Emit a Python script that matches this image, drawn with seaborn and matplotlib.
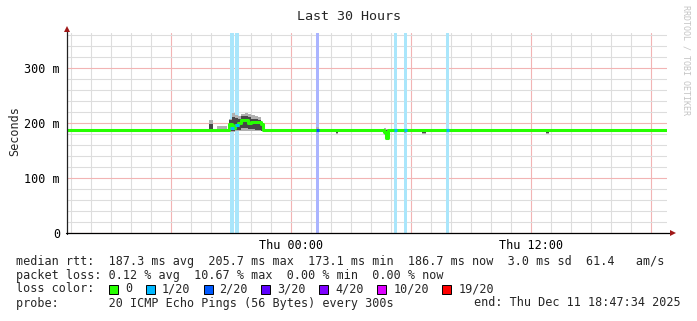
import matplotlib
matplotlib.use("Agg")
import matplotlib.pyplot as plt
import seaborn as sns
import numpy as np
import pandas as pd
from matplotlib.patches import Rectangle
from matplotlib.lines import Line2D

# ---------------- data ----------------
TITLE = "Last 30 Hours"
END_TIME = "2025-12-11 18:47:34"
SPAN_HOURS = 30

# median rtt (ms), step changes, hours since start
MEDIAN_T = [0.00, 8.10, 8.25, 8.40, 8.55, 8.70, 8.90, 9.05, 9.20, 9.40, 9.55, 9.70, 9.80,
            15.85, 15.95, 16.05, 30.00]
MEDIAN_V = [187.3, 198.0, 191.0, 196.0, 200.5, 205.5, 205.0, 199.5, 202.0, 201.5, 201.0, 199.0, 187.3,
            184.0, 172.5, 187.3, 186.7]

# smoke envelopes (ms), step changes
SMOKE_T = [0.00, 7.10, 7.30, 7.50, 8.00, 8.10, 8.25, 8.40, 8.55, 8.70, 8.90, 9.05, 9.20, 9.40, 9.55,
           9.70, 9.80, 12.45, 12.60, 13.45, 13.55, 15.85, 15.95, 16.05, 16.15, 16.85, 16.95,
           17.75, 17.95, 23.95, 24.10, 30.00]
SMOKE_LO_OUT = [185.5, 185.5, 185.5, 185.5, 185.5, 184.0, 183.0, 185.0, 186.0, 186.0, 186.0, 186.0,
                186.0, 186.0, 186.0, 185.0, 185.5, 185.5, 185.5, 180.0, 185.5, 178.0, 170.0, 181.0,
                185.5, 181.0, 185.5, 180.0, 185.5, 180.0, 185.5, 185.5]
SMOKE_HI_OUT = [189.0, 205.0, 189.0, 194.0, 189.0, 208.0, 218.0, 215.0, 212.0, 217.0, 219.0, 216.0,
                214.0, 212.0, 211.0, 200.0, 189.0, 193.0, 189.0, 189.0, 189.0, 190.0, 189.0, 189.0,
                189.0, 189.0, 189.0, 189.0, 189.0, 189.0, 189.0, 189.0]
SMOKE_LO_IN = [186.5, 186.0, 186.5, 186.5, 186.5, 185.0, 185.0, 187.0, 188.0, 190.0, 190.0, 189.0,
               189.0, 188.0, 188.0, 186.0, 186.5, 186.5, 186.5, 182.5, 186.5, 180.0, 174.0, 183.0,
               186.5, 183.0, 186.5, 182.0, 186.5, 182.0, 186.5, 186.5]
SMOKE_HI_IN = [188.0, 199.0, 188.0, 188.0, 188.0, 205.0, 211.0, 209.0, 207.0, 212.0, 213.0, 210.0,
               208.0, 207.0, 205.0, 196.0, 188.0, 188.0, 188.0, 188.0, 188.0, 188.0, 188.0, 188.0,
               188.0, 188.0, 188.0, 188.0, 188.0, 188.0, 188.0, 188.0]

# packet loss events
LOSS_T = [8.26, 8.51, 12.52, 16.43, 16.93, 19.03]
LOSS_LEVEL = ["1/20", "1/20", "2/20", "1/20", "1/20", "1/20"]

LOSS_LABELS = ["0", "1/20", "2/20", "3/20", "4/20", "10/20", "19/20"]
LOSS_COLORS = ["#26ff00", "#00b8ff", "#0059ff", "#5e00ff", "#7e00ff", "#dd00ff", "#ff0000"]
BAR_SHADES = {"1/20": "#aae6fb", "2/20": "#aab4ff"}

RTT_STATS = [187.3, 205.7, 173.1, 186.7]   # avg max min now
RTT_SD = 3.0
RTT_AMS = 61.4
LOSS_STATS = [0.12, 10.67, 0.00, 0.00]     # avg max min now
PROBE = "20 ICMP Echo Pings (56 Bytes) every 300s"

Y_MAJOR = [0, 100, 200, 300]
Y_LABELS = ["0", "100 m", "200 m", "300 m"]

# ---------------- style ----------------
sns.set_theme(style="white")
plt.rcParams["font.family"] = ["DejaVu Sans Mono"]
FS = 8.5
W, H = 697, 321


def fx(px):
    return px / W


def fy(py):
    return 1 - py / H


fig = plt.figure(figsize=(W / 100, H / 100), dpi=100)
fig.patch.set_facecolor("white")
ax = fig.add_axes([fx(67), fy(233), 600 / W, 200 / H])
ax.set_facecolor("white")
ax.set_xlim(0, SPAN_HOURS)
ax.set_ylim(0, 363.6)

# time ticks
end = pd.Timestamp(END_TIME)
start = end - pd.Timedelta(hours=SPAN_HOURS)
first = start.ceil("h")
minor_h, major_h, major_lab = [], [], []
t = first
while t <= end:
    h = (t - start) / pd.Timedelta(hours=1)
    if t.hour % 6 == 0:
        major_h.append(h)
        major_lab.append(t.strftime("%a %H:%M") if t.hour % 12 == 0 else "")
    else:
        minor_h.append(h)
    t += pd.Timedelta(hours=1)

ax.set_xticks(major_h)
ax.set_xticklabels(major_lab)
ax.set_xticks(minor_h, minor=True)
ax.set_yticks(Y_MAJOR)
ax.set_yticklabels(Y_LABELS)
ax.set_yticks([v for v in range(20, 361, 20) if v not in Y_MAJOR], minor=True)
ax.set_axisbelow(True)
ax.grid(which="minor", color="#dddddd", lw=0.8)
ax.grid(which="major", color="#f2b4b4", lw=0.8)
ax.tick_params(which="major", length=3, width=0.8, color="#eaa0a0", direction="out",
               labelsize=FS, pad=2, labelcolor="black")
ax.tick_params(axis="x", which="major", pad=1)
ax.tick_params(which="minor", length=3, width=0.8, color="#cccccc", direction="out")
for s in ax.spines.values():
    s.set_visible(False)

# loss bars
bw = 0.17
for lt, lv in zip(LOSS_T, LOSS_LEVEL):
    ax.axvspan(lt - bw / 2, lt + bw / 2, color=BAR_SHADES[lv], lw=0, zorder=1)

# smoke
ax.fill_between(SMOKE_T, SMOKE_LO_OUT, SMOKE_HI_OUT, step="post", color="#b0b0b0", lw=0, zorder=2)
ax.fill_between(SMOKE_T, SMOKE_LO_IN, SMOKE_HI_IN, step="post", color="#474747", lw=0, zorder=2.5)

# median
sns.lineplot(x=MEDIAN_T, y=MEDIAN_V, drawstyle="steps-post", color=LOSS_COLORS[0],
             linewidth=2.2, ax=ax, zorder=3, estimator=None, sort=False)
color_of = dict(zip(LOSS_LABELS, LOSS_COLORS))
for lt, lv in zip(LOSS_T, LOSS_LEVEL):
    idx = np.searchsorted(MEDIAN_T, lt, side="right") - 1
    v = MEDIAN_V[idx]
    ax.plot([lt - bw / 2, lt + bw / 2], [v, v], color=color_of[lv], lw=2.2,
            solid_capstyle="butt", zorder=4)

# axis lines with arrows
fig.add_artist(Line2D([fx(67), fx(67)], [fy(234), fy(29)], color="#222222", lw=0.9))
fig.add_artist(Line2D([fx(66), fx(671)], [fy(233), fy(233)], color="black", lw=0.9))
fig.add_artist(Line2D([fx(67)], [fy(28.5)], marker="^", markersize=4.5, color="#a01818", mew=0))
fig.add_artist(Line2D([fx(672.5)], [fy(233)], marker=">", markersize=4.5, color="#a01818", mew=0))

# texts
fig.text(fx(349), fy(16), TITLE, ha="center", va="center", fontsize=9.6)
fig.text(fx(15), fy(131), "Seconds", rotation=90, ha="center", va="center", fontsize=FS)
fig.text(fx(686), fy(60), "RRDTOOL / TOBI OETIKER", rotation=270, ha="center", va="center",
         fontsize=6, color="#c4c4c4")

line1 = ("median rtt:  {:.1f} ms avg  {:.1f} ms max  {:.1f} ms min  {:.1f} ms now  "
         "{:.1f} ms sd  {:.1f}   am/s").format(*RTT_STATS, RTT_SD, RTT_AMS)
line2 = "packet loss: {:.2f} % avg  {:.2f} % max  {:.2f} % min  {:.2f} % now".format(*LOSS_STATS)
fig.text(fx(16), fy(261), line1, ha="left", va="center", fontsize=FS)
fig.text(fx(16), fy(275), line2, ha="left", va="center", fontsize=FS)
fig.text(fx(16), fy(289), "loss color:", ha="left", va="center", fontsize=FS)
x = 109
for lab, col in zip(LOSS_LABELS, LOSS_COLORS):
    fig.add_artist(Rectangle((fx(x), fy(294)), 9 / W, 9 / H, facecolor=col,
                             edgecolor="black", lw=0.7, transform=fig.transFigure))
    fig.text(fx(x + 16), fy(289), lab, ha="left", va="center", fontsize=FS)
    x = x + 16 + len(lab) * 7.1 + 13.5
fig.text(fx(16), fy(303), "probe:       " + PROBE, ha="left", va="center", fontsize=FS)
fig.text(fx(681), fy(303), "end: " + end.strftime("%a %b %d %H:%M:%S %Y"), ha="right",
         va="center", fontsize=FS)

fig.savefig("out.png", dpi=100, facecolor="white")
